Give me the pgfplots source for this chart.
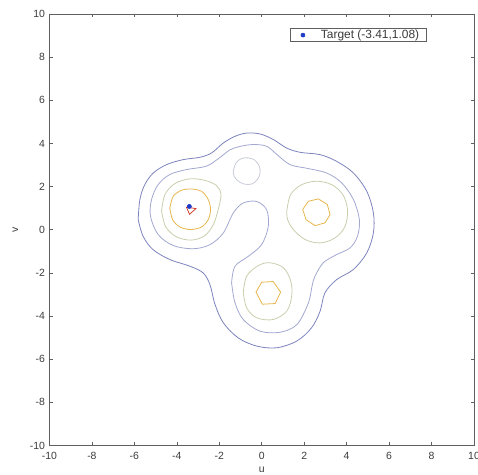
\documentclass[border=0pt]{standalone}
\usepackage{fontspec}
\setmainfont{Liberation Sans}
\usepackage{pgfplots}
\pgfplotsset{compat=1.18}

% contour level colours (low -> high)
\definecolor{lvA}{RGB}{124,131,188}
\definecolor{lvB}{RGB}{162,168,208}
\definecolor{lvC}{RGB}{198,207,172}
\definecolor{lvD}{RGB}{230,182,76}
\definecolor{lvE}{RGB}{208,64,48}
\definecolor{lvBump}{RGB}{200,203,216}
\definecolor{axisgray}{RGB}{95,95,95}
\definecolor{labelgray}{RGB}{60,60,60}
\definecolor{targetblue}{RGB}{30,60,200}

\begin{document}
\begin{tikzpicture}
\begin{axis}[
  name=ax,
  scale only axis,
  width=425bp, height=432bp,
  xmin=-10, xmax=10, ymin=-10, ymax=10,
  xtick={-10,-8,...,10}, ytick={-10,-8,...,10},
  tick align=inside,
  major tick length=3.5bp,
  axis line style={axisgray, line width=0.7bp},
  every tick/.style={axisgray, line width=0.6bp},
  /pgf/number format/assume math mode=true,
  tick label style={font=\fontsize{10.5}{12}\selectfont, text=labelgray},
  xticklabel style={yshift=-3bp},
  yticklabel style={xshift=-1bp},
  xlabel={u}, ylabel={v},
  label style={font=\fontsize{10.5}{12}\selectfont, text=labelgray},
  xlabel style={at={(axis description cs:0.5,-0.056)}, anchor=center},
  ylabel style={at={(axis description cs:-0.08,0.5)}, anchor=center},
  legend style={at={(rel axis cs:0.888,0.967)}, anchor=north east,
    draw=axisgray, line width=0.6bp, font=\fontsize{12}{13}\selectfont,
    text=labelgray, inner ysep=0bp, inner xsep=3bp,
    nodes={inner xsep=4bp, inner ysep=1.5bp}},
  legend cell align=left,
  legend image code/.code={\draw[draw=none] (0bp,0bp) -- (24bp,0bp);
    \draw[#1, only marks] plot coordinates {(10bp,0bp)};},
]
% target point (first, so it is the legend entry)
\addplot[only marks, mark=*, mark size=2bp, color=targetblue]
  coordinates {(-3.41,1.08)};
\addlegendentry{Target (-3.41,1.08)}

% outermost level
\addplot[lvA, line width=0.8bp, smooth, tension=0.55, forget plot] coordinates {
 (-5.82,0.47) (-5.74,1.40) (-5.51,2.09) (-5.11,2.63) (-4.48,3.02) (-3.70,3.25)
 (-2.91,3.36) (-2.36,3.56) (-1.81,4.02) (-1.26,4.33) (-0.71,4.48) (-0.08,4.44)
 (0.55,4.18) (1.17,3.79) (1.80,3.59) (2.75,3.48) (3.53,3.17) (4.32,2.63)
 (4.95,1.78) (5.26,0.78) (5.26,-0.15) (4.95,-1.07) (4.32,-1.84) (3.53,-2.31)
 (2.98,-2.92) (2.75,-3.77) (2.35,-4.54) (1.65,-5.16) (0.70,-5.47) (-0.24,-5.39)
 (-1.11,-5.01) (-1.81,-4.31) (-2.20,-3.46) (-2.44,-2.54) (-2.76,-2.00) (-3.38,-1.69)
 (-4.33,-1.38) (-5.12,-0.92) (-5.59,-0.30) (-5.82,0.47)};

% second level, with the notch between the left and lower peaks
\addplot[lvB, line width=0.8bp, smooth, tension=0.55, forget plot] coordinates {
 (-1.42,-2.46) (-1.26,-1.69) (-0.63,-1.23) (0.00,-0.68) (0.31,0.16) (0.23,0.93)
 (-0.24,1.31) (-0.87,1.24) (-1.34,0.78) (-1.81,-0.15) (-2.44,-0.69) (-3.23,-0.88)
 (-4.17,-0.73) (-4.88,-0.22) (-5.24,0.63) (-5.19,1.40) (-4.88,2.09) (-4.33,2.56)
 (-3.54,2.79) (-2.60,2.95) (-1.97,3.35) (-1.50,3.70) (-1.03,3.86) (-0.40,3.95)
 (0.23,3.87) (0.70,3.50) (1.33,3.02) (2.12,2.85) (3.06,2.63) (3.77,2.17)
 (4.32,1.40) (4.60,0.47) (4.51,-0.30) (4.16,-0.84) (3.53,-1.15) (2.90,-1.53)
 (2.51,-2.15) (2.37,-2.61) (2.20,-3.39) (1.66,-4.39) (0.86,-4.75) (-0.08,-4.70)
 (-0.87,-4.16) (-1.26,-3.38) (-1.42,-2.46)};

% small bump above the centre
\addplot[lvBump, line width=0.8bp, smooth, tension=0.6, forget plot] coordinates {
 (-1.34,2.71) (-1.21,3.10) (-0.95,3.30) (-0.63,3.33) (-0.32,3.22) (-0.11,2.94)
 (-0.08,2.63) (-0.21,2.32) (-0.47,2.12) (-0.84,2.12) (-1.15,2.29) (-1.31,2.51)
 (-1.34,2.71)};

% third level: one ring round each peak
\addplot[lvC, line width=0.8bp, smooth, tension=0.55, forget plot] coordinates {
 (-4.72,0.86) (-4.56,1.63) (-4.09,2.14) (-3.38,2.36) (-2.68,2.29) (-2.13,2.05)
 (-1.92,1.63) (-2.05,0.94) (-2.28,0.24) (-2.68,-0.27) (-3.31,-0.48) (-4.01,-0.33)
 (-4.52,0.13) (-4.72,0.86)};
\addplot[lvC, line width=0.8bp, smooth, tension=0.55, forget plot] coordinates {
 (1.18,0.86) (1.36,1.63) (1.88,2.09) (2.59,2.25) (3.30,2.09) (3.82,1.63)
 (4.04,0.94) (3.93,0.16) (3.45,-0.38) (2.75,-0.61) (2.04,-0.45) (1.49,0.01)
 (1.22,0.47) (1.18,0.86)};
\addplot[lvC, line width=0.8bp, smooth, tension=0.55, forget plot] coordinates {
 (-0.87,-2.92) (-0.71,-2.15) (-0.16,-1.66) (0.39,-1.53) (1.02,-1.76) (1.37,-2.38)
 (1.41,-3.08) (1.18,-3.77) (0.54,-4.16) (-0.24,-4.08) (-0.71,-3.62) (-0.87,-2.92)};

% fourth level
\addplot[lvD, line width=0.8bp, smooth, tension=0.5, forget plot] coordinates {
 (-4.33,1.01) (-4.17,1.55) (-3.78,1.83) (-3.31,1.89) (-2.83,1.78) (-2.52,1.40)
 (-2.41,0.94) (-2.52,0.47) (-2.83,0.13) (-3.35,0.01) (-3.86,0.13) (-4.20,0.47)
 (-4.33,1.01)};
\addplot[lvD, line width=0.8bp, forget plot] coordinates {
 (1.93,0.94) (2.20,1.32) (2.67,1.43) (3.09,1.17) (3.22,0.70) (2.98,0.32)
 (2.51,0.19) (2.09,0.47) (1.93,0.94)};
\addplot[lvD, line width=0.8bp, forget plot] coordinates {
 (-0.27,-2.89) (0.00,-2.43) (0.54,-2.40) (0.89,-2.89) (0.63,-3.42) (0.03,-3.45)
 (-0.27,-2.89)};

% top level, close to the left peak
\addplot[lvE, line width=0.8bp, forget plot] coordinates {
 (-3.55,1.05) (-3.10,0.98) (-3.40,0.72) (-3.55,1.05)};

% target point drawn again on top of the contours
\addplot[only marks, mark=*, mark size=2bp, color=targetblue, forget plot]
  coordinates {(-3.41,1.08)};
\end{axis}
\pgfresetboundingbox
\path ([shift={(-49.5bp,-29bp)}]ax.south west) rectangle ([shift={(4bp,14bp)}]ax.north east);
\end{tikzpicture}
\end{document}
